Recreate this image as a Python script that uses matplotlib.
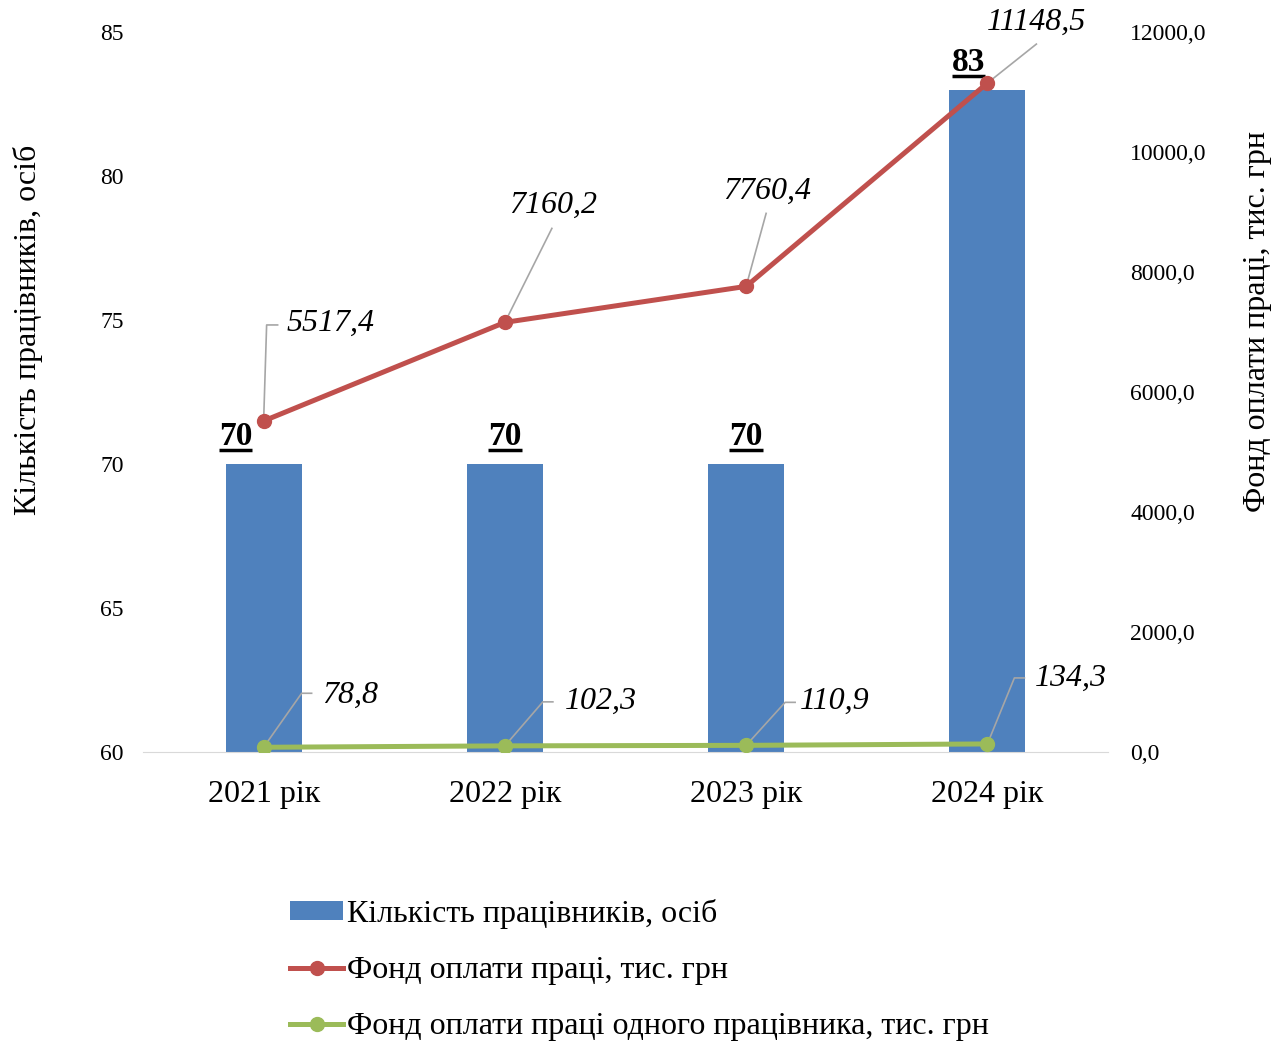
import numpy as np
import matplotlib
matplotlib.use('Agg')
import matplotlib.pyplot as plt
from matplotlib.lines import Line2D
from matplotlib.patches import Patch

plt.rcParams['font.family'] = ['Liberation Serif', 'DejaVu Serif']

# data
years = ['2021 рік', '2022 рік', '2023 рік', '2024 рік']
staff = [70, 70, 70, 83]
fund = [5517.4, 7160.2, 7760.4, 11148.5]
fund_one = [78.8, 102.3, 110.9, 134.3]
fund_labels = ['5517,4', '7160,2', '7760,4', '11148,5']
fund_one_labels = ['78,8', '102,3', '110,9', '134,3']
left_ticks = [60, 65, 70, 75, 80, 85]
right_ticks = [0, 2000, 4000, 6000, 8000, 10000, 12000]

BLUE, RED, GREEN = '#4F81BD', '#C0504D', '#9BBB59'
GREY = '#A6A6A6'

# label layout, pixel offsets from the point (dx right, dy down)
# leader polyline points, then text anchor + alignment
fund_leaders = [[(3, -96), (14, -96)], [(47, -94)], [(20, -73)], [(49, -39)]]
fund_text = [((23, -98), 'left'), ((48, -117), 'center'), ((21, -95), 'center'), ((49, -61), 'center')]
one_leaders = [[(38, -54), (48, -54)], [(38, -44), (48, -44)], [(39, -43), (49, -43)], [(27, -66), (37, -66)]]
one_text = [((58, -52), 'left'), ((60, -45), 'left'), ((54, -44), 'left'), ((47, -66), 'left')]
bar_lab_dx = [-28, 0, 0, -19]

fig = plt.figure(figsize=(12.86, 10.43), dpi=100)
ax = fig.add_axes([143/1286, 1-752/1043, 965/1286, 720/1043])
ax2 = ax.twinx()

x = np.arange(len(years))
ax.bar(x, staff, width=0.315, color=BLUE, zorder=2)
ax.set_xlim(-0.5, 3.5)
ax.set_ylim(60, 85)
ax.set_yticks(left_ticks)
ax.set_xticks(x)
ax.set_xticklabels(years, fontsize=23)
ax.tick_params(axis='y', length=0, labelsize=17, pad=14)
ax.tick_params(axis='x', length=0, pad=20)

ax2.set_ylim(0, 12000)
ax2.set_yticks(right_ticks)
ax2.set_yticklabels([f'{v},0' for v in right_ticks])
ax2.tick_params(axis='y', length=0, labelsize=17, pad=16)

for a in (ax, ax2):
    for s in ['top', 'left', 'right']:
        a.spines[s].set_visible(False)
    a.spines['bottom'].set_color('#D9D9D9')
ax2.spines['bottom'].set_visible(False)

ax2.plot(x, fund, color=RED, lw=3.6, marker='o', ms=10, zorder=3)
ax2.plot(x, fund_one, color=GREEN, lw=3.6, marker='o', ms=10, zorder=3)

inv = ax2.transData.inverted()


def leader(xv, yv, pts):
    p0 = ax2.transData.transform((xv, yv))
    xs = [p0[0]] + [p0[0] + dx for dx, dy in pts]
    ys = [p0[1]] + [p0[1] - dy for dx, dy in pts]
    d = inv.transform(np.column_stack([xs, ys]))
    ax2.plot(d[:, 0], d[:, 1], color=GREY, lw=1.2, zorder=2.5, clip_on=False)


for i in range(len(years)):
    leader(i, fund[i], fund_leaders[i])
    (dx, dy), ha = fund_text[i]
    ax2.annotate(fund_labels[i], xy=(i, fund[i]), xytext=(dx, -dy), textcoords='offset pixels',
                 ha=ha, va='center', fontsize=23, style='italic')
    leader(i, fund_one[i], one_leaders[i])
    (dx, dy), ha = one_text[i]
    ax2.annotate(fund_one_labels[i], xy=(i, fund_one[i]), xytext=(dx, -dy), textcoords='offset pixels',
                 ha=ha, va='center', fontsize=23, style='italic')

bar_texts = []
for i, v in enumerate(staff):
    t = ax.annotate(str(v), xy=(i, v), xytext=(bar_lab_dx[i], 19), textcoords='offset pixels',
                    ha='center', va='baseline', fontsize=24, fontweight='bold')
    bar_texts.append(t)

fig.text(28/1286, 1-330/1043, 'Кількість працівників, осіб', rotation=90,
         ha='center', va='center', fontsize=23)
fig.text(1258/1286, 1-322/1043, 'Фонд оплати праці, тис. грн', rotation=90,
         ha='center', va='center', fontsize=23)

handles = [Patch(facecolor=BLUE),
           Line2D([], [], color=RED, lw=3.6, marker='o', ms=10),
           Line2D([], [], color=GREEN, lw=3.6, marker='o', ms=10)]
labels = ['Кількість працівників, осіб', 'Фонд оплати праці, тис. грн',
          'Фонд оплати праці одного працівника, тис. грн']
fig.legend(handles, labels, loc='upper left', bbox_to_anchor=(290/1286, 1-899/1043),
           frameon=False, fontsize=23, handlelength=1.66, handletextpad=0.12,
           handleheight=0.55, labelspacing=0.85, borderaxespad=0, borderpad=0)

# underline the bar labels
fig.canvas.draw()
r = fig.canvas.get_renderer()
for t in bar_texts:
    bb = t.get_window_extent(r)
    base = ax.transData.transform(t.xy)[1] + 19
    d = ax.transData.inverted().transform([(bb.x0, base - 5), (bb.x1, base - 5)])
    ax.plot(d[:, 0], d[:, 1], color='black', lw=2.5, solid_capstyle='butt', clip_on=False, zorder=4)

fig.savefig('out.png', dpi=100)
